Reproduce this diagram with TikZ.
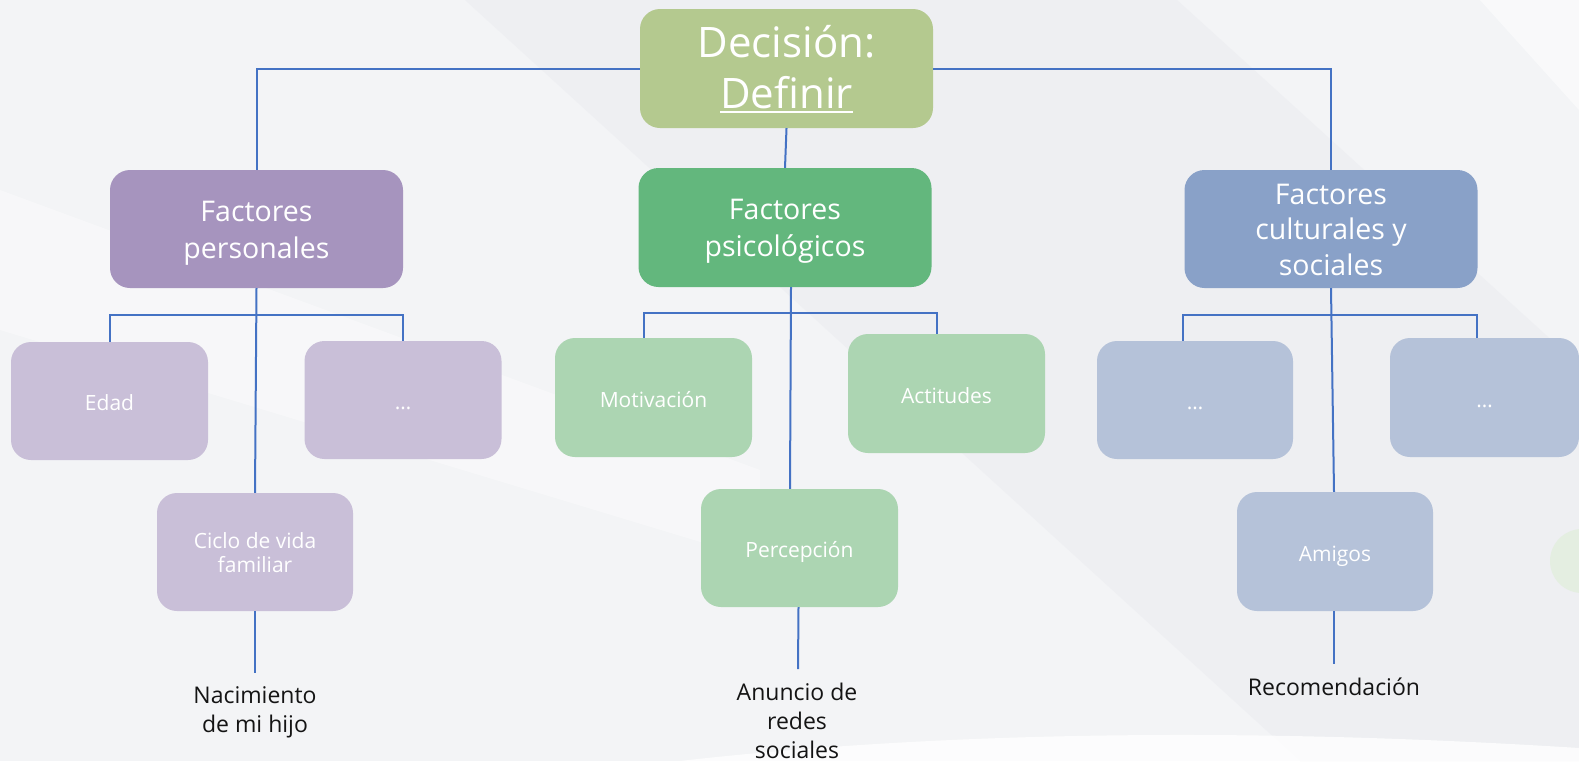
\documentclass[tikz,border=0pt]{standalone}
\usepackage{fontspec}
\setmainfont{Open Sans}
\usetikzlibrary{calc}
\definecolor{bgcol}{HTML}{F3F4F6}
\definecolor{bandcol}{HTML}{EEEFF2}
\definecolor{topcol}{HTML}{B4C98F}
\definecolor{perscol}{HTML}{A694BE}
\definecolor{persch}{HTML}{C9BFD8}
\definecolor{psicol}{HTML}{63B77D}
\definecolor{psich}{HTML}{ACD5B2}
\definecolor{cultcol}{HTML}{89A1C8}
\definecolor{cultch}{HTML}{B5C2D9}
\definecolor{conncol}{HTML}{4472C4}
\definecolor{circcol}{HTML}{E4EEE1}
\newcommand\myul[1]{\setbox0\hbox{#1}\rlap{\rule[-5pt]{\wd0}{2pt}}\box0}
\newcommand\hst[1]{\rule{0pt}{#1}}
\newcommand\dst[1]{\rule[-#1]{0pt}{#1}}
\newcommand\tp{\hst{29.9pt}}
\newcommand\bp{\dst{8.55pt}}
\newcommand\tc{\hst{23.1pt}}
\newcommand\ts{\hst{25.5pt}}
\newcommand\bc{\dst{6.3pt}}
\begin{document}
\begin{tikzpicture}[x=1pt,y=-1pt,
  box/.style={rectangle, rounded corners=20pt, inner sep=0pt, align=center, text=white},
  parentbox/.style={box, minimum width=293pt, minimum height=118pt, font=\fontsize{28.5}{37}\selectfont},
  childbox/.style={box, minimum width=197pt, minimum height=118pt, font=\fontsize{21}{24}\selectfont},
  conn/.style={draw=conncol, line width=2pt},
  lbl/.style={align=center, inner sep=0pt, text=black!92, font=\fontsize{23}{29}\selectfont}]
\useasboundingbox (0,0) rectangle (1579,761);
% background
\fill[bgcol] (0,0) rectangle (1579,761);
\fill[bandcol] (465,0) -- (1177,0) -- (1579,365) -- (1579,761) -- (1300,761) -- cycle;
\fill[white, opacity=0.35] (0,190) -- (0,330) -- (760,560) -- (760,470) -- cycle;
\fill[white, opacity=0.5] (1480,0) -- (1579,0) -- (1579,110) -- cycle;
\fill[white, opacity=0.8] (680,761) .. controls (900,736) and (1200,724) .. (1579,748) -- (1579,761) -- cycle;
\fill[circcol] (1582,561) circle (32);
% top
\node[box, fill=topcol, minimum width=293pt, minimum height=119pt, font=\fontsize{42}{51}\selectfont] (top) at (786.5,68.5) {\hst{40.6pt}Decisión:\\\myul{Definir}\dst{12.6pt}};
% parents
\node[parentbox, fill=perscol] (pers) at (256.5,229) {\tp Factores\\personales\bp};
\node[parentbox, fill=psicol, minimum height=119pt] (psico) at (785,227.5) {\tp Factores\\psicológicos\bp};
\node[parentbox, fill=cultcol, font=\fontsize{28.5}{35.5}\selectfont] (cult) at (1331,229) {\tp Factores\\culturales y\\sociales\bp};
% children
\node[childbox, fill=persch] (edad) at (109.5,401) {\ts Edad\bc};
\node[childbox, fill=persch] (pdots) at (403,400) {\ts …\bc};
\node[childbox, fill=persch, minimum width=196pt] (ciclo) at (255,552) {\tc Ciclo de vida\\familiar\bc};
\node[childbox, fill=psich, minimum height=119pt] (motiv) at (653.5,397.5) {\ts Motivación\bc};
\node[childbox, fill=psich, minimum height=119pt] (actit) at (946.5,393.5) {\ts Actitudes\bc};
\node[childbox, fill=psich] (perc) at (799.5,548) {\ts Percepción\bc};
\node[childbox, fill=cultch, minimum width=196pt] (cdots1) at (1195,400) {\ts …\bc};
\node[childbox, fill=cultch, minimum width=189pt, minimum height=119pt] (cdots2) at (1484.5,397.5) {\ts …\bc};
\node[childbox, fill=cultch, minimum width=196pt, minimum height=119pt] (amigos) at (1335,551.5) {\ts Amigos\bc};
% labels
\node[lbl, anchor=north] (nac) at (255,680) {\hst{23pt}Nacimiento\\de mi hijo};
\node[lbl, anchor=north] (anun) at (797,677) {\hst{23pt}Anuncio de\\redes\\sociales};
\node[lbl, anchor=base] (reco) at (1334,695) {Recomendación};
% junctions and ends
\coordinate (pj) at (256.5,315);
\coordinate (sj) at (790.5,313);
\coordinate (cj) at (1330,315);
\coordinate (nacend) at (255,673);
\coordinate (anunend) at (798,669);
\coordinate (recoend) at (1334,664);
% connectors
\draw[conn] (top.west) -| (pers.north);
\draw[conn] (top.east) -| (cult.north);
\draw[conn] (top.south) -- (psico.north);
\draw[conn] (pers.south) -- (ciclo.north);
\draw[conn] (edad.north) |- (pj) -| (pdots.north);
\draw[conn] (ciclo.south) -- (nacend);
\draw[conn] ([xshift=6pt]psico.south) -- ([xshift=-9.5pt]perc.north);
\draw[conn] ([xshift=-9.5pt]motiv.north) |- (sj) -| ([xshift=-9.5pt]actit.north);
\draw[conn] ([xshift=-1pt]perc.south) -- (anunend);
\draw[conn] (cult.south) -- ([xshift=-1pt]amigos.north);
\draw[conn] ([xshift=-12pt]cdots1.north) |- (cj) -| ([xshift=-7.5pt]cdots2.north);
\draw[conn] ([xshift=-1pt]amigos.south) -- (recoend);
\end{tikzpicture}
\end{document}
